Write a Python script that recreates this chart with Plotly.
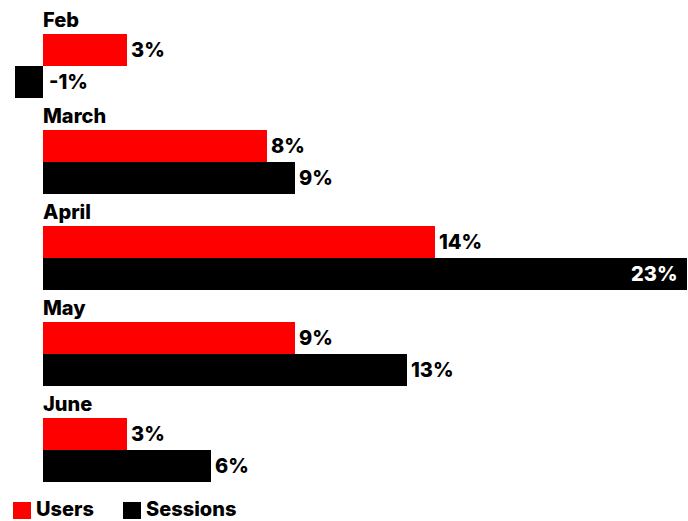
import plotly.graph_objects as go

months = ["Feb", "March", "April", "May", "June"]
users = [3, 8, 14, 9, 3]
sessions = [-1, 9, 23, 13, 6]
series_names = ["Users", "Sessions"]
colors = ["#ff0000", "#000000"]

FONT = "Inter"
FS = 20
PX_PER_UNIT = 28
W, H = 688, 521
ZERO_PX = 43
SLOT = 32

fig = go.Figure()
# spacer slot (holds the month label)
fig.add_trace(go.Bar(y=months, x=[0] * len(months), orientation="h",
                     marker=dict(color="rgba(0,0,0,0)", line=dict(width=0)),
                     showlegend=False, hoverinfo="skip"))
for name, vals, col in zip(series_names, [users, sessions], colors):
    fig.add_trace(go.Bar(y=months, x=vals, orientation="h", name=name,
                         marker=dict(color=col, line=dict(width=0)),
                         showlegend=False))

ann = []
for m in months:
    ann.append(dict(x=0, y=m, text=m, xanchor="left", yanchor="middle",
                    yshift=SLOT - 2, xshift=-2, showarrow=False,
                    font=dict(family=FONT, size=FS, color="black", weight=800)))
xmax = max(max(users), max(sessions))
for vals, ys in [(users, 0), (sessions, -SLOT)]:
    for m, v in zip(months, vals):
        inside = v >= xmax * 0.9
        ann.append(dict(x=max(v, 0), y=m, text=f"{v}%", showarrow=False,
                        xanchor="right" if inside else "left", yanchor="middle",
                        xshift=-8 if inside else (2 if v >= 0 else 4), yshift=ys,
                        font=dict(family=FONT, size=FS, color="white" if inside else "black", weight=800)))

# legend
legend_items = [(series_names[0], colors[0], 13), (series_names[1], colors[1], 123)]
shapes = []
plot_h = H - 2 - 39
for name, col, px in legend_items:
    shapes.append(dict(type="rect", xref="paper", yref="paper",
                       x0=px / W, x1=(px + 18) / W,
                       y0=-(502 - 482) / plot_h, y1=-(519 - 482) / plot_h,
                       fillcolor=col, line=dict(width=0)))
    ann.append(dict(xref="paper", yref="paper", x=(px + 21) / W, y=-(509 - 482) / plot_h,
                    text=name, showarrow=False, xanchor="left", yanchor="middle",
                    font=dict(family=FONT, size=FS, color="black", weight=800)))

x0 = -ZERO_PX / PX_PER_UNIT
fig.update_layout(
    width=W, height=H,
    margin=dict(l=0, r=0, t=2, b=39),
    barmode="group", bargap=0, bargroupgap=0,
    plot_bgcolor="white", paper_bgcolor="white",
    xaxis=dict(range=[x0, x0 + W / PX_PER_UNIT], visible=False, fixedrange=True),
    yaxis=dict(autorange="reversed", visible=False, fixedrange=True),
    annotations=ann, shapes=shapes, showlegend=False,
)
fig.write_html("out.html", config={"displayModeBar": False},
               post_script="document.body.style.margin='0';document.body.style.overflow='hidden';")
